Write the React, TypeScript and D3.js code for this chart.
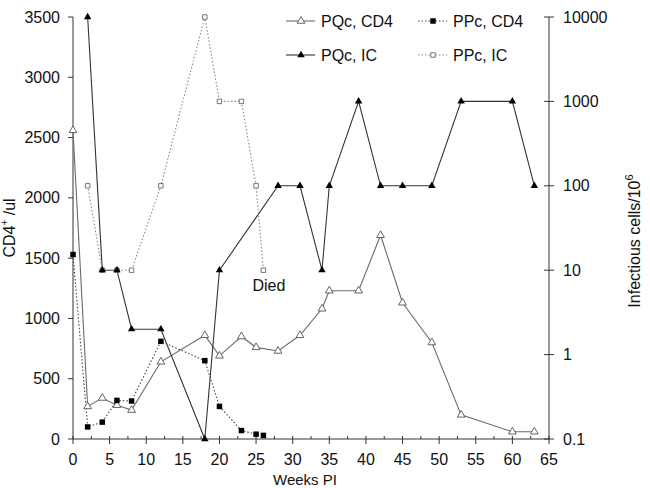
import * as d3 from 'd3'

// Weeks post infection and readings for the two animals
const pqcCd4Weeks = [0, 2, 4, 6, 8, 12, 18, 20, 23, 25, 28, 31, 34, 35, 39, 42, 45, 49, 53, 60, 63]
const pqcCd4 = [2560, 270, 340, 280, 240, 640, 860, 690, 850, 760, 730, 860, 1080, 1230, 1230, 1690, 1130, 800, 200, 60, 60]

const pqcIcWeeks = [2, 4, 6, 8, 12, 18, 20, 28, 31, 34, 35, 39, 42, 45, 49, 53, 60, 63]
const pqcIc = [10000, 10, 10, 2, 2, 0.1, 10, 100, 100, 10, 100, 1000, 100, 100, 100, 1000, 1000, 100]

const ppcCd4Weeks = [0, 2, 4, 6, 8, 12, 18, 20, 23, 25, 26]
const ppcCd4 = [1530, 100, 140, 320, 315, 810, 650, 270, 70, 40, 30]

const ppcIcWeeks = [2, 4, 6, 8, 12, 18, 20, 23, 25, 26]
const ppcIc = [100, 10, 10, 10, 100, 10000, 1000, 1000, 100, 10]

const xTicks = [0, 5, 10, 15, 20, 25, 30, 35, 40, 45, 50, 55, 60, 65]
const yLeftTicks = [0, 500, 1000, 1500, 2000, 2500, 3000, 3500]
const yRightTicks = [0.1, 1, 10, 100, 1000, 10000]

const FONT = 'Arial, "Liberation Sans", sans-serif'
const W = 650
const H = 488
const margin = { top: 17, right: 101, bottom: 49, left: 73 }

type Pt = [number, number]

export default function App() {
  const innerW = W - margin.left - margin.right
  const innerH = H - margin.top - margin.bottom

  const x = d3.scaleLinear().domain([0, 65]).range([0, innerW])
  const yL = d3.scaleLinear().domain([0, 3500]).range([innerH, 0])
  const yR = d3.scaleLog().domain([0.1, 10000]).range([innerH, 0])

  const zip = (ws: number[], vs: number[]): Pt[] => ws.map((w, i) => [w, vs[i]])
  const lineL = d3.line<Pt>().x(d => x(d[0])).y(d => yL(d[1]))
  const lineR = d3.line<Pt>().x(d => x(d[0])).y(d => yR(d[1]))

  const tri = d3.symbol().type(d3.symbolTriangle)
  const sq = d3.symbol().type(d3.symbolSquare)

  const minorTicks = d3.range(2.5, 65, 5)
  const died = [ppcIcWeeks[ppcIcWeeks.length - 1], ppcIc[ppcIc.length - 1]]

  // legend entries: sample line + marker
  const legend = [
    { label: 'PQc, CD4', x: 286, y: 21, stroke: '#6a6a6a', dash: null, marker: 'openTri' },
    { label: 'PQc, IC', x: 286, y: 55, stroke: '#333', dash: null, marker: 'fillTri' },
    { label: 'PPc, CD4', x: 418, y: 21, stroke: '#444', dash: '1.5 2', marker: 'fillSq' },
    { label: 'PPc, IC', x: 418, y: 55, stroke: '#888', dash: '1.5 2', marker: 'openSq' },
  ]

  const marker = (kind: string, cx: number, cy: number, key?: string | number) => {
    if (kind === 'openTri')
      return <path key={key} d={tri.size(26)()!} transform={`translate(${cx},${cy})`} fill="#fff" stroke="#555" strokeWidth={0.9} />
    if (kind === 'fillTri')
      return <path key={key} d={tri.size(24)()!} transform={`translate(${cx},${cy})`} fill="#000" />
    if (kind === 'fillSq')
      return <path key={key} d={sq.size(30)()!} transform={`translate(${cx},${cy})`} fill="#000" />
    return <path key={key} d={sq.size(20)()!} transform={`translate(${cx},${cy})`} fill="#fff" stroke="#666" strokeWidth={0.9} />
  }

  return (
    <svg width={W} height={H} style={{ position: 'absolute', left: 0, top: 0, background: '#fff' }} fontFamily={FONT}>
      <g transform={`translate(${margin.left},${margin.top})`}>
        {/* axes */}
        <line x1={0} x2={0} y1={0} y2={innerH} stroke="#333" />
        <line x1={innerW} x2={innerW} y1={0} y2={innerH} stroke="#333" />
        <line x1={0} x2={innerW} y1={innerH} y2={innerH} stroke="#333" />

        {yLeftTicks.map(t => (
          <g key={t} transform={`translate(0,${yL(t)})`}>
            <line x1={-5} x2={0} stroke="#333" />
            <text x={-13} dy="0.35em" textAnchor="end" fontSize={16} fill="#111">{t}</text>
          </g>
        ))}

        {yRightTicks.map(t => (
          <g key={t} transform={`translate(${innerW},${yR(t)})`}>
            <line x1={-5} x2={5} stroke="#333" />
            <text x={14} dy="0.35em" fontSize={16} fill="#111">{t}</text>
          </g>
        ))}

        {xTicks.map(t => (
          <g key={t} transform={`translate(${x(t)},${innerH})`}>
            <line y1={-3} y2={5} stroke="#333" />
            <text y={26} textAnchor="middle" fontSize={16} fill="#111">{t}</text>
          </g>
        ))}
        {minorTicks.map(t => (
          <line key={t} x1={x(t)} x2={x(t)} y1={innerH - 3} y2={innerH} stroke="#333" />
        ))}

        {/* series lines */}
        <path d={lineL(zip(pqcCd4Weeks, pqcCd4))!} fill="none" stroke="#6a6a6a" strokeWidth={1.1} />
        <path d={lineR(zip(pqcIcWeeks, pqcIc))!} fill="none" stroke="#333" strokeWidth={1.1} />
        <path d={lineL(zip(ppcCd4Weeks, ppcCd4))!} fill="none" stroke="#444" strokeWidth={1.1} strokeDasharray="1.5 2" />
        <path d={lineR(zip(ppcIcWeeks, ppcIc))!} fill="none" stroke="#888" strokeWidth={1.1} strokeDasharray="1.5 2" />

        {/* markers */}
        {zip(ppcIcWeeks, ppcIc).map((d, i) => marker('openSq', x(d[0]), yR(d[1]), 'a' + i))}
        {zip(pqcCd4Weeks, pqcCd4).map((d, i) => marker('openTri', x(d[0]), yL(d[1]), 'b' + i))}
        {zip(ppcCd4Weeks, ppcCd4).map((d, i) => marker('fillSq', x(d[0]), yL(d[1]), 'c' + i))}
        {zip(pqcIcWeeks, pqcIc).map((d, i) => marker('fillTri', x(d[0]), yR(d[1]), 'd' + i))}

        <text x={x(died[0]) - 11} y={yR(died[1]) + 21} fontSize={16} fill="#111">Died</text>
      </g>

      {/* axis titles */}
      <text transform="translate(15,228) rotate(-90)" textAnchor="middle" fontSize={16} fill="#111">
        CD4<tspan dy={-7} fontSize={10}>+</tspan><tspan dy={7}> /ul</tspan>
      </text>
      <text transform="translate(640,241) rotate(-90)" textAnchor="middle" fontSize={16} fill="#111">
        Infectious cells/10<tspan dy={-7} fontSize={11}>6</tspan>
      </text>
      <text x={305} y={485} textAnchor="middle" fontSize={15} fill="#111">Weeks PI</text>

      {/* legend */}
      {legend.map(l => (
        <g key={l.label}>
          <line x1={l.x} x2={l.x + 29} y1={l.y} y2={l.y} stroke={l.stroke} strokeWidth={1.1} strokeDasharray={l.dash ?? undefined} />
          {marker(l.marker, l.x + 15, l.y)}
          <text x={l.x + 35} y={l.y} dy="0.35em" fontSize={16} fill="#111">{l.label}</text>
        </g>
      ))}
    </svg>
  )
}
